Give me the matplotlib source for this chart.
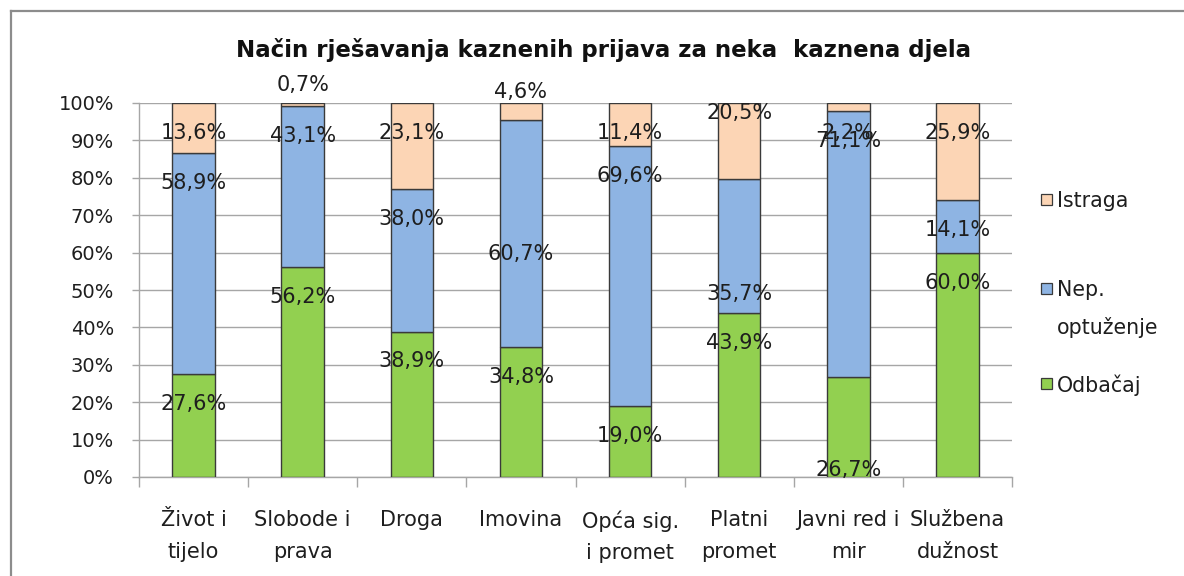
import matplotlib
matplotlib.use("Agg")
import matplotlib.pyplot as plt
from matplotlib.patches import Rectangle
from matplotlib.lines import Line2D
import numpy as np

# ---- data ----
categories = ["Život i\ntijelo", "Slobode i\nprava", "Droga", "Imovina",
              "Opća sig.\ni promet", "Platni\npromet", "Javni red i\nmir",
              "Službena\ndužnost"]
odbacaj = [27.6, 56.2, 38.9, 34.8, 19.0, 43.9, 26.7, 60.0]
nep_optuzenje = [58.9, 43.1, 38.0, 60.7, 69.6, 35.7, 71.1, 14.1]
istraga = [13.6, 0.7, 23.1, 4.6, 11.4, 20.5, 2.2, 25.9]
series_names = ["Odbačaj", "Nep.\noptuženje", "Istraga"]
title = "Način rješavanja kaznenih prijava za neka  kaznena djela"
yticks = [0, 10, 20, 30, 40, 50, 60, 70, 80, 90, 100]

# ---- style ----
colors = ["#92D050", "#8EB4E3", "#FCD5B5"]
edge = "#3a3a3a"
grid_c = "#a6a6a6"
txt_c = "#1e1e1e"
FONT = "DejaVu Sans"

# label placement: default is just inside the segment top; some labels were moved by hand
label_drop = 8.0
label_override = {  # (series index, category index) -> y in axis units
    (2, 1): 104.8, (2, 3): 103.0, (2, 5): 97.3,
    (1, 3): 59.6, (1, 5): 49.0,
    (0, 6): 1.9,
}

W, H = 1184, 576
fig = plt.figure(figsize=(W / 100, H / 100), dpi=100)
fig.patch.set_facecolor("white")

# outer frame of the embedded chart (top and left edges visible)
fx, fy = 10.5 / W, 1 - 10.5 / H
fig.add_artist(Line2D([fx, 1.0], [fy, fy], transform=fig.transFigure,
                      color="#8c8c8c", linewidth=1.6))
fig.add_artist(Line2D([fx, fx], [0.0, fy], transform=fig.transFigure,
                      color="#8c8c8c", linewidth=1.6))

ax = fig.add_axes([139 / W, 1 - 477 / H, (1012 - 139) / W, (477 - 103) / H])
x = np.arange(len(categories))
width = 0.39
data = [odbacaj, nep_optuzenje, istraga]
bottom = np.zeros(len(categories))
for si, vals in enumerate(data):
    vals = np.array(vals)
    ax.bar(x, vals, width, bottom=bottom, color=colors[si], edgecolor=edge,
           linewidth=1.0, label=series_names[si], zorder=3)
    tops = bottom + vals
    for ci in range(len(categories)):
        y = label_override.get((si, ci), tops[ci] - label_drop)
        ax.text(x[ci], y, f"{vals[ci]:.1f}%".replace(".", ","), ha="center",
                va="center", fontsize=15, color=txt_c, family=FONT,
                zorder=5, clip_on=False)
    bottom = tops

ax.set_xlim(-0.5, len(categories) - 0.5)
ax.set_ylim(0, 100)
ax.set_yticks(yticks)
ax.set_yticklabels([f"{v}%" for v in yticks], fontsize=14, color=txt_c, family=FONT)
ax.yaxis.grid(True, color=grid_c, linewidth=1.0, zorder=0)
ax.set_axisbelow(True)
ax.tick_params(axis="y", length=5, width=1, color=grid_c, pad=13)

ax.set_xticks(np.arange(len(categories) + 1) - 0.5)
ax.set_xticklabels([])
ax.set_xticks(x, minor=True)
ax.set_xticklabels(categories, minor=True, fontsize=15, color=txt_c, family=FONT,
                   linespacing=1.72)
ax.tick_params(axis="x", which="major", length=7, width=1, color=grid_c)
ax.tick_params(axis="x", which="minor", length=0, pad=24)

for s in ["top", "right"]:
    ax.spines[s].set_visible(False)
for s in ["left", "bottom"]:
    ax.spines[s].set_color(grid_c)
    ax.spines[s].set_linewidth(1.0)

fig.text(604 / W, 1 - 50 / H, title, ha="center", va="center",
         fontsize=16.5, fontweight="bold", color="#111111", family=FONT)

# legend, drawn as keys + texts (Istraga on top, as in the reference)
leg_rows = [(2, 199), (1, 288), (0, 383)]  # (series index, y pixel of first line)
leg_line_gap = 37  # pixels between wrapped lines of a legend entry
for si, ypx in leg_rows:
    fig.patches.append(Rectangle((1041 / W, 1 - (ypx + 6) / H), 11 / W, 11 / H,
                                 transform=fig.transFigure, facecolor=colors[si],
                                 edgecolor=edge, linewidth=0.9))
    for li, line in enumerate(series_names[si].split("\n")):
        fig.text(1057 / W, 1 - (ypx + li * leg_line_gap) / H, line, ha="left",
                 va="center_baseline", fontsize=14.8, color=txt_c, family=FONT)

fig.savefig("out.png", dpi=100, facecolor="white")
